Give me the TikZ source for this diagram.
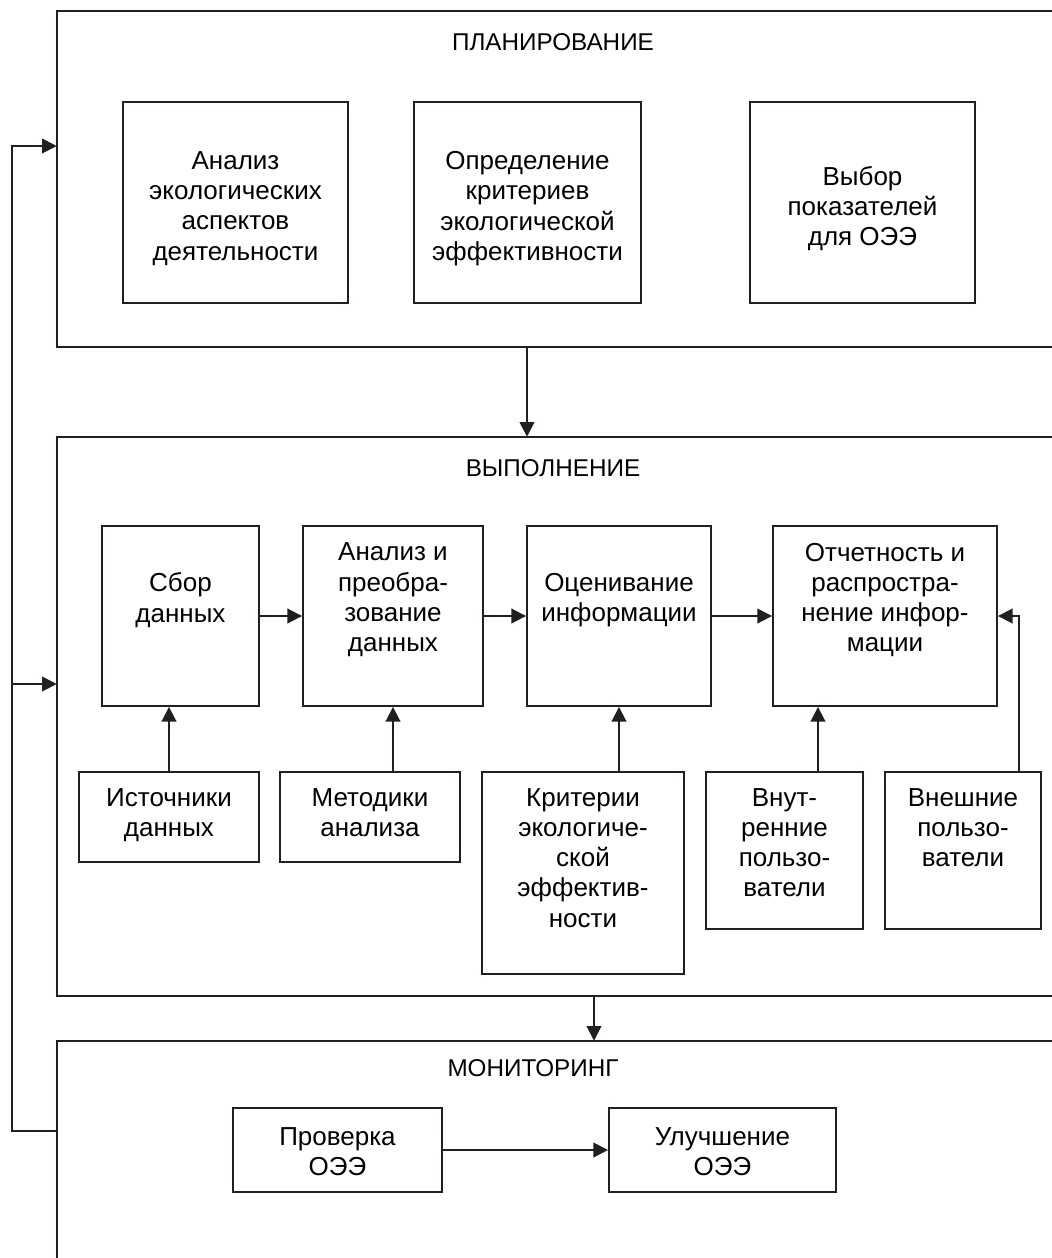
\documentclass[tikz,border=0pt]{standalone}
\usepackage{fontspec}
\setmainfont{Liberation Sans}
\usetikzlibrary{arrows.meta,fit}
\definecolor{lc}{HTML}{231F20}
\begin{document}
\begin{tikzpicture}[x=0.75pt,y=-0.75pt,
  line/.style={draw=lc, line width=1.4pt},
  arr/.style={line, -{Triangle[length=11pt,width=11pt]}},
  region/.style={inner sep=0pt, draw=none},
  box/.style={line, rectangle, inner sep=0pt},
  txt/.style={align=center, inner sep=0pt, font=\fontsize{19.5pt}{22.7pt}\selectfont},
  ttl/.style={inner sep=0pt, anchor=base, font=\fontsize{18.2pt}{22pt}\selectfont},
]
\useasboundingbox (0,0) rectangle (1051,1258);

% ---------- Planning ----------
\node[region, fit={(57,11)(1075,347)}] (plan) {};
\draw[line] (plan.north east) -- (plan.north west) -- (plan.south west) -- (plan.south east);
\node[ttl] (planT) at (553,50) {ПЛАНИРОВАНИЕ};
\node[box, fit={(123,102)(348,303)}] (p1) {};
\node[box, fit={(414,102)(641,303)}] (p2) {};
\node[box, fit={(750,102)(975,303)}] (p3) {};
\node[txt] (p1t) at ([yshift=-4.5pt]p1.center) {Анализ\\экологических\\аспектов\\деятельности};
\node[txt] (p2t) at ([yshift=-4.5pt]p2.center) {Определение\\критериев\\экологической\\эффективности};
\node[txt] (p3t) at ([yshift=-4.5pt]p3.center) {Выбор\\показателей\\для ОЭЭ};

% ---------- Execution ----------
\node[region, fit={(57,437)(1075,996)}] (exec) {};
\draw[line] (exec.north east) -- (exec.north west) -- (exec.south west) -- (exec.south east);
\node[ttl] (execT) at (553,476) {ВЫПОЛНЕНИЕ};

\node[box, fit={(102,526)(259,706)}] (e1) {};
\node[box, fit={(303,526)(483,706)}] (e2) {};
\node[box, fit={(527,526)(711,706)}] (e3) {};
\node[box, fit={(773,526)(997,706)}] (e4) {};
\node[txt] (e1t) at ([yshift=12pt]e1.center) {Сбор\\данных};
\node[txt] (e2t) at ([yshift=12pt]e2.center) {Анализ и\\преобра-\\зование\\данных};
\node[txt] (e3t) at ([yshift=12pt]e3.center) {Оценивание\\информации};
\node[txt] (e4t) at ([yshift=12pt]e4.center) {Отчетность и\\распростра-\\нение инфор-\\мации};

\node[box, fit={(79,772)(259,862)}] (s1) {};
\node[box, fit={(280,772)(460,862)}] (s2) {};
\node[box, fit={(482,772)(684,974)}] (s3) {};
\node[box, fit={(706,772)(863,929)}] (s4) {};
\node[box, fit={(885,772)(1041,929)}] (s5) {};
\node[txt, anchor=north] (s1t) at ([yshift=-12.7pt]s1.north) {Источники\\данных};
\node[txt, anchor=north] (s2t) at ([yshift=-12.7pt]s2.north) {Методики\\анализа};
\node[txt, anchor=north] (s3t) at ([yshift=-12.7pt]s3.north) {Критерии\\экологиче-\\ской\\эффектив-\\ности};
\node[txt, anchor=north] (s4t) at ([yshift=-12.7pt]s4.north) {Внут-\\ренние\\пользо-\\ватели};
\node[txt, anchor=north] (s5t) at ([yshift=-12.7pt]s5.north) {Внешние\\пользо-\\ватели};

\draw[arr] (e1) -- (e2);
\draw[arr] (e2) -- (e3);
\draw[arr] (e3) -- (e4);
\draw[arr] (s1.north) -- (s1.north |- e1.south);
\draw[arr] (e2.south |- s2.north) -- (e2.south);
\draw[arr] (e3.south |- s3.north) -- (e3.south);
\coordinate (x4) at (818,0);
\coordinate (x5) at (1019,0);
\draw[arr] (s4.north -| x4) -- (e4.south -| x4);
\draw[arr] (s5.north -| x5) |- (e4.east);

% ---------- Monitoring ----------
\node[region, fit={(57,1041)(1075,1275)}] (mon) {};
\draw[line] (mon.north east) -- (mon.north west) -- (mon.south west);
\node[ttl] (monT) at (533,1076) {МОНИТОРИНГ};
\node[box, fit={(233,1108)(442,1192)}] (m1) {};
\node[box, fit={(609,1108)(836,1192)}] (m2) {};
\node[txt] (m1t) at ([yshift=-1.5pt]m1.center) {Проверка\\ОЭЭ};
\node[txt] (m2t) at ([yshift=-1.5pt]m2.center) {Улучшение\\ОЭЭ};
\draw[arr] (m1) -- (m2);

% ---------- Links between stages ----------
\coordinate (xa) at (527,0);
\coordinate (xb) at (594,0);
\draw[arr] (plan.south -| xa) -- (exec.north -| xa);
\draw[arr] (exec.south -| xb) -- (mon.north -| xb);

% ---------- Feedback loop ----------
\coordinate (fbB) at (12,1131);
\coordinate (fbT) at (12,146);
\coordinate (fbM) at (12,684);
\draw[arr] (mon.west |- fbB) -- (fbB) -- (fbT) -- (plan.west |- fbT);
\draw[arr] (fbM) -- (exec.west |- fbM);
\end{tikzpicture}
\end{document}
